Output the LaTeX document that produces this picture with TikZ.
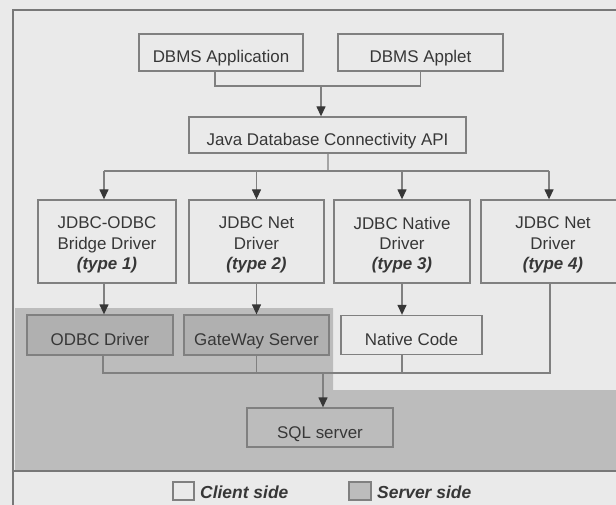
\documentclass[tikz,border=0pt]{standalone}
\usepackage{fontspec}
\setmainfont{Liberation Sans}
\usetikzlibrary{arrows.meta}
\definecolor{bgc}{RGB}{234,234,234}
\definecolor{srv}{RGB}{188,188,188}
\definecolor{srvbox}{RGB}{176,176,176}
\definecolor{edge}{RGB}{128,128,128}
\definecolor{frm}{RGB}{120,120,120}
\definecolor{tip}{RGB}{55,55,55}
\definecolor{txt}{RGB}{55,55,55}
\tikzset{
  box/.style={draw=edge, line width=1.3bp, rectangle, inner sep=0pt, align=center,
    text=txt, font=\fontsize{17}{20}\selectfont, fill=bgc, text height=21bp, text depth=0bp},
  dbox/.style={draw=edge, line width=1.3bp, rectangle, inner sep=0pt, fill=bgc},
  dtext/.style={align=center, inner sep=0pt, text=txt, font=\fontsize{17}{20.3}\selectfont},
  srvb/.style={box, fill=srvbox},
  conn/.style={draw=edge, line width=1.3bp},
  arr/.style={conn, -{Triangle[length=10bp,width=9bp,color=tip]}},
  legtxt/.style={text=txt, font=\fontsize{17.5}{20}\selectfont\bfseries\itshape, inner sep=0pt, anchor=base west},
}
\begin{document}
\begin{tikzpicture}[x=1bp,y=-1bp]
\useasboundingbox (0,0) rectangle (616,505);
\fill[bgc] (0,0) rectangle (616,505);
% server side region
\fill[srv] (15,308) -- (333,308) -- (333,390) -- (616,390) -- (616,471) -- (15,471) -- cycle;
% frame
\draw[frm, line width=1.3bp] (13,505) -- (13,10) -- (616,10);
\draw[frm, line width=1.5bp] (13,471) -- (616,471);

% nodes
\node[box, minimum width=164bp, minimum height=37bp] (app) at (221,52.5) {DBMS Application};
\node[box, minimum width=165bp, minimum height=37bp] (applet) at (420.5,52.5) {DBMS Applet};
\node[box, minimum width=277bp, minimum height=36bp] (api) at (327.5,135) {Java Database Connectivity API};

\node[dbox, minimum width=138bp, minimum height=83bp] (d1) at (107,241.5) {};
\node[dbox, minimum width=135bp, minimum height=83bp] (d2) at (256.5,241.5) {};
\node[dbox, minimum width=136bp, minimum height=83bp] (d3) at (402,241.5) {};
\node[dbox, minimum width=144bp, minimum height=83bp] (d4) at (553,241.5) {};
\node[dtext] (d1t) at ([yshift=-3.5bp]d1.center) {JDBC-ODBC\\Bridge Driver\\\textbf{\textit{(type 1)}}};
\node[dtext] (d2t) at ([yshift=-3.5bp]d2.center) {JDBC Net\\Driver\\\textbf{\textit{(type 2)}}};
\node[dtext] (d3t) at ([yshift=-3.5bp]d3.center) {JDBC Native\\Driver\\\textbf{\textit{(type 3)}}};
\node[dtext] (d4t) at ([yshift=-3.5bp]d4.center) {JDBC Net\\Driver\\\textbf{\textit{(type 4)}}};

\node[srvb, minimum width=146bp, minimum height=40bp] (odbc) at (100,335) {ODBC Driver};
\node[srvb, minimum width=145bp, minimum height=40bp] (gw) at (256.5,335) {GateWay Server};
\node[box, minimum width=141bp, minimum height=39bp] (native) at (411.5,335) {Native Code};
\node[box, fill=srv, minimum width=146bp, minimum height=39bp] (sql) at (320,427.5) {SQL server};

% connectors
\coordinate (j1) at (321,86);
\draw[conn] ([xshift=-6bp]app.south) |- (j1) -| (applet.south);
\draw[arr] (j1) -- (j1 |- api.north);

\coordinate (j2) at (328,171);
\draw[conn] ([xshift=0.5bp]api.south) -- (j2);
\draw[conn] (j2) -- (104,171) coordinate (j2l);
\draw[conn] (j2) -- (549,171) coordinate (j2r);
\draw[arr] (j2l) -- (j2l |- d1.north);
\draw[arr] (j2 -| d2.north) -- (d2.north);
\draw[arr] (j2 -| d3.north) -- (d3.north);
\draw[arr] (j2r) -- (j2r |- d4.north);

\draw[arr] ([xshift=-3bp]d1.south) -- ([xshift=-3bp]d1.south |- odbc.north);
\draw[arr] (d2.south) -- (d2.south |- gw.north);
\draw[arr] (d3.south) -- (d3.south |- native.north);

\coordinate (j3) at (323,373);
\draw[conn] ([xshift=3bp]odbc.south) |- (j3);
\draw[conn] (gw.south) -- (gw.south |- j3);
\draw[conn] ([xshift=-9.5bp]native.south) -- ([xshift=-9.5bp]native.south |- j3);
\draw[conn] ([xshift=-3bp]d4.south) |- (j3);
\draw[arr] (j3) -- (j3 |- sql.north);

% legend
\node[draw=edge, line width=1.3bp, fill=bgc, minimum width=21bp, minimum height=18bp, inner sep=0pt] (lc) at (183.5,491) {};
\node[legtxt] (lct) at (200,498) {Client side};
\node[draw=edge, line width=1.3bp, fill=srv, minimum width=22bp, minimum height=18bp, inner sep=0pt] (ls) at (360,491) {};
\node[legtxt] (lst) at (377,498) {Server side};
\end{tikzpicture}
\end{document}
